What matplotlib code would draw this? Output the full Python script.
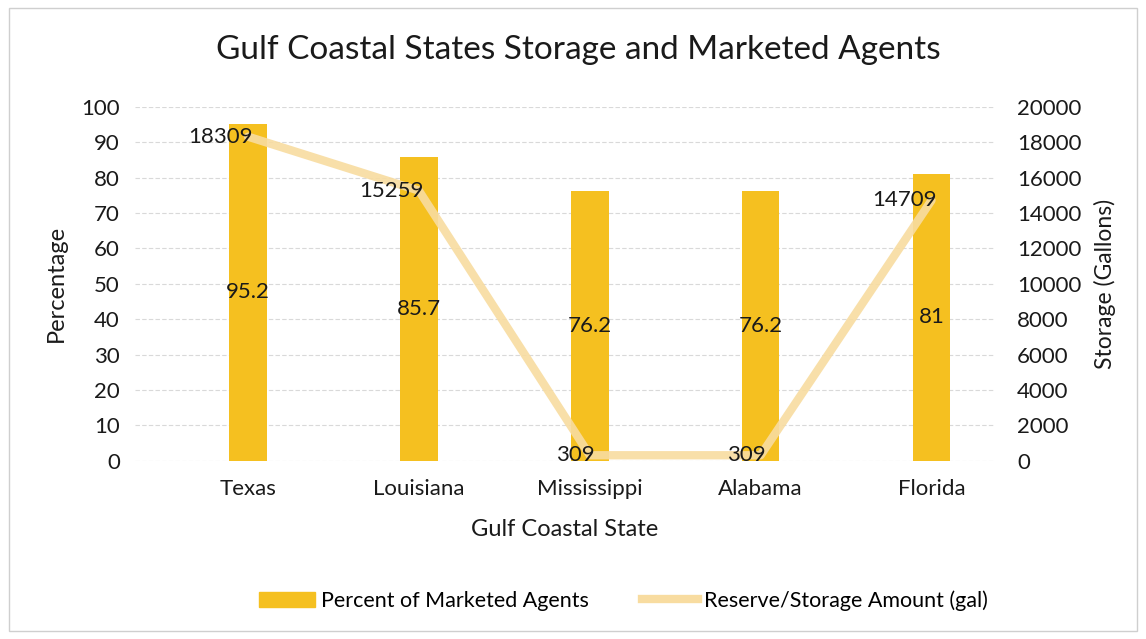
import matplotlib
matplotlib.use("Agg")
import matplotlib.pyplot as plt
from matplotlib.patches import Rectangle
from matplotlib.lines import Line2D

plt.rcParams["font.family"] = ["Lato", "DejaVu Sans"]

states = ["Texas", "Louisiana", "Mississippi", "Alabama", "Florida"]
pct_agents = [95.2, 85.7, 76.2, 76.2, 81]
storage_gal = [18309, 15259, 309, 309, 14709]
pct_labels = ["95.2", "85.7", "76.2", "76.2", "81"]

bar_col = "#F5C020"
line_col = "#F8DCA0"
txt = "#1a1a1a"

fig = plt.figure(figsize=(11.46, 6.39), dpi=100)
fig.patches.append(Rectangle((0.008, 0.012), 0.984, 0.976, transform=fig.transFigure,
                             fill=False, ec="#cfcfcf", lw=1))
ax = fig.add_axes([0.118, 0.279, 0.750, 0.554])
ax2 = ax.twinx()

x = list(range(len(states)))
ax.bar(x, pct_agents, width=0.22, color=bar_col, zorder=2)
for xi, v, s in zip(x, pct_agents, pct_labels):
    ax.text(xi, v / 2, s, ha="center", va="center", fontsize=16, color=txt, zorder=5)

ax2.plot(x, storage_gal, color=line_col, lw=6, solid_capstyle="round", alpha=0.9, zorder=3)
for xi, v in zip(x, storage_gal):
    ax2.text(xi + 0.03, v, str(v), ha="right", va="center", fontsize=16, color=txt, zorder=5)

ax.set_xlim(-0.66, 4.37)
ax.set_ylim(0, 100)
ax.set_yticks(range(0, 101, 10))
ax2.set_ylim(0, 20000)
ax2.set_yticks(range(0, 20001, 2000))
ax.set_xticks(x)
ax.set_xticklabels(states)
ax.yaxis.grid(True, color="#d9d9d9", lw=0.8, ls=(0, (4, 2)))
ax.set_axisbelow(True)
for a in (ax, ax2):
    for sp in a.spines.values():
        sp.set_visible(False)
    a.tick_params(length=0, labelsize=16, colors=txt)
ax.tick_params(axis="y", pad=11)
ax2.tick_params(axis="y", pad=16)
ax.tick_params(axis="x", pad=13)

ax.set_ylabel("Percentage", fontsize=17, color=txt, va="center")
ax.yaxis.set_label_coords(-0.092, 0.5)
ax2.set_ylabel("Storage (Gallons)", fontsize=16.5, color=txt, va="center")
ax2.yaxis.set_label_coords(1.128, 0.5)
ax.set_xlabel("Gulf Coastal State", fontsize=17, color=txt, va="center")
ax.xaxis.set_label_coords(0.5, -0.195)

fig.text(0.505, 0.922, "Gulf Coastal States Storage and Marketed Agents",
         ha="center", va="center", fontsize=24, color=txt)

handles = [Rectangle((0, 0), 1, 1, color=bar_col),
           Line2D([0], [0], color=line_col, lw=6)]
fig.legend(handles, ["Percent of Marketed Agents", "Reserve/Storage Amount (gal)"],
           loc="center", bbox_to_anchor=(0.544, 0.06), ncol=2, frameon=False,
           fontsize=15.5, columnspacing=2.5, handlelength=2.6, handletextpad=0.25)

fig.savefig("out.png", dpi=100)
